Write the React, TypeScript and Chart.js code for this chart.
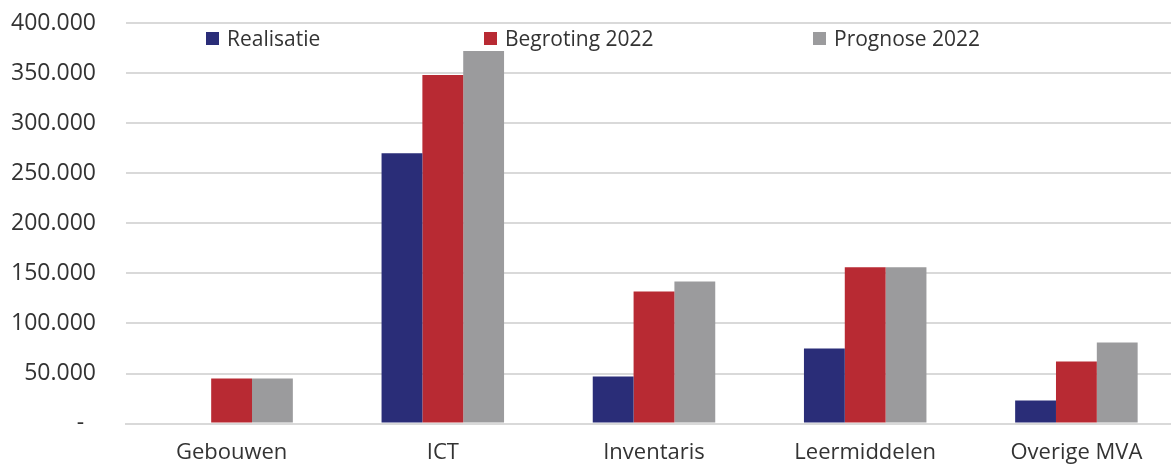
import React, { useEffect, useRef } from "react";
import { Chart, registerables } from "chart.js";

Chart.register(...registerables);

const categories = ["Gebouwen", "ICT", "Inventaris", "Leermiddelen", "Overige MVA"];
const realisatie = [0, 270000, 47000, 75000, 23000];
const begroting2022 = [45000, 348000, 132000, 156000, 62000];
const prognose2022 = [45000, 372000, 142000, 156000, 81000];
const seriesLabels = ["Realisatie", "Begroting 2022", "Prognose 2022"];
const seriesColors = ["#2a2d78", "#b82a33", "#9b9b9d"];
const legendLeft = [206, 484, 813];

const FONT = "'Open Sans', 'Noto Sans', sans-serif";

function fmt(v: number): string {
  if (v === 0) return "-  ";
  return v.toString().replace(/\B(?=(\d{3})+(?!\d))/g, ".");
}

export default function App() {
  const ref = useRef<HTMLCanvasElement>(null);
  useEffect(() => {
    document.body.style.margin = "0";
    document.body.style.overflow = "hidden";
    const ctx = ref.current!;
    const data = [realisatie, begroting2022, prognose2022];
    const chart = new Chart(ctx, {
      type: "bar",
      data: {
        labels: categories,
        datasets: seriesLabels.map((l, i) => ({
          label: l,
          data: data[i],
          backgroundColor: seriesColors[i],
          borderWidth: 0,
          barPercentage: 1,
          categoryPercentage: 0.58,
        })),
      },
      options: {
        animation: false,
        responsive: false,
        maintainAspectRatio: false,
        layout: { padding: { left: 8, right: 0, top: 23, bottom: -16 } },
        plugins: { legend: { display: false }, tooltip: { enabled: false } },
        scales: {
          x: {
            grid: { display: false, drawTicks: false },
            border: { display: true, color: "#d9d9d9", width: 2 },
            ticks: { color: "#333", font: { family: FONT, size: 22 }, padding: 16 },
          },
          y: {
            min: 0,
            max: 400000,
            afterFit: (scale: any) => {
              scale.width = 118;
            },
            grid: { color: "#d9d9d9", lineWidth: 2, drawTicks: true, tickLength: 26, tickColor: "rgba(0,0,0,0)" },
            border: { display: false },
            ticks: {
              stepSize: 50000,
              color: "#333",
              font: { family: FONT, size: 23 },
              padding: 4,
              callback: (v: any) => fmt(Number(v)),
            },
          },
        },
      },
    });
    return () => chart.destroy();
  }, []);
  return (
    <div style={{ position: "relative", width: 1171, height: 466, overflow: "hidden" }}>
      <canvas ref={ref} width={1182} height={466} style={{ display: "block" }} />
      {seriesLabels.map((l, i) => (
        <div
          key={l}
          style={{
            position: "absolute",
            left: legendLeft[i],
            top: 24,
            height: 28,
            display: "flex",
            alignItems: "center",
            fontFamily: FONT,
            fontSize: 21,
            color: "#333",
            whiteSpace: "nowrap",
          }}
        >
          <span style={{ display: "inline-block", width: 13, height: 13, background: seriesColors[i], marginRight: 8 }} />
          {l}
        </div>
      ))}
    </div>
  );
}
